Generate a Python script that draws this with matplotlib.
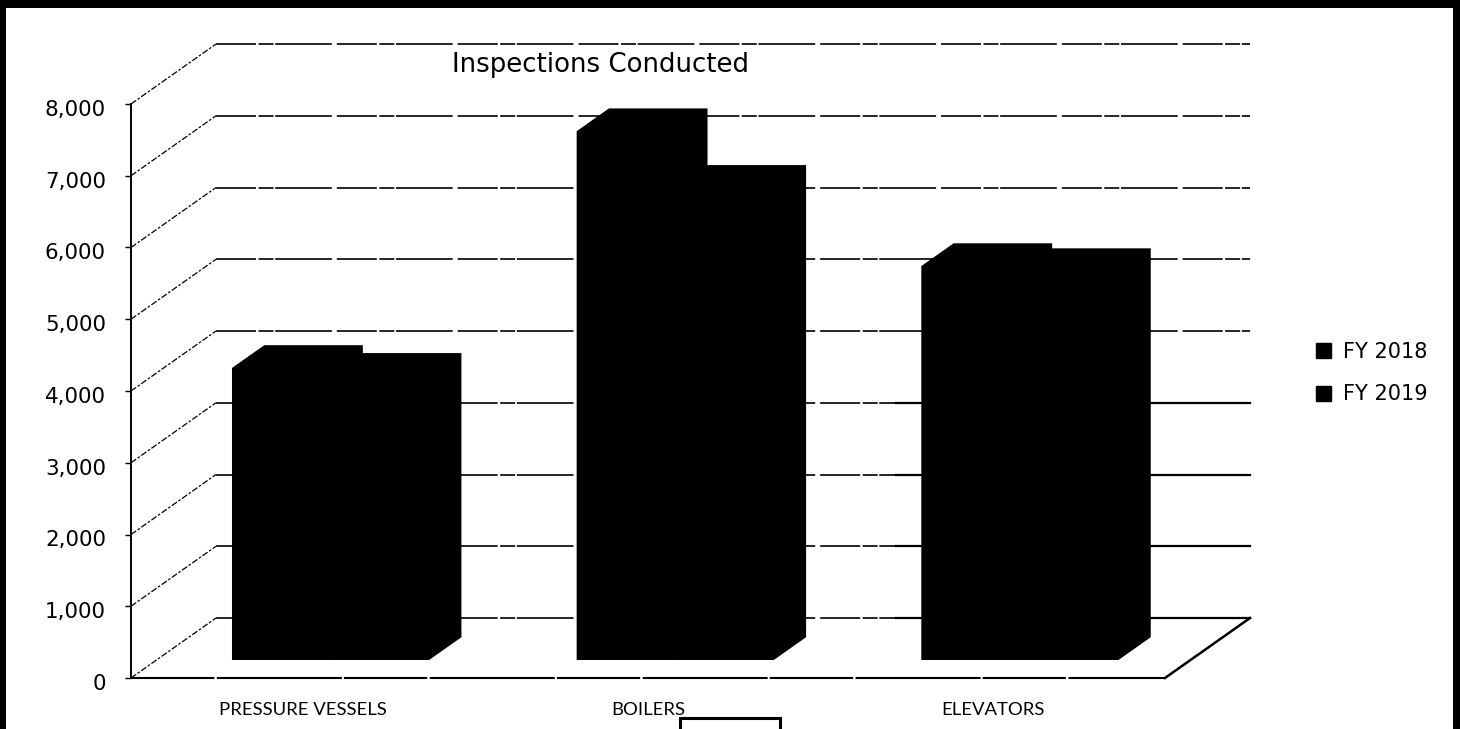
import matplotlib
matplotlib.use('Agg')
import matplotlib.pyplot as plt
from matplotlib.patches import Patch, Rectangle
from matplotlib.transforms import ScaledTranslation

plt.rcParams['font.family'] = ['DejaVu Sans']

categories = ['PRESSURE VESSELS', 'BOILERS', 'ELEVATORS']
series_names = ['FY 2018', 'FY 2019']
fy2018 = [4070, 7370, 5490]
fy2019 = [3960, 6580, 5420]
y_ticks = [0, 1000, 2000, 3000, 4000, 5000, 6000, 7000, 8000]

W, H = 1460, 729

# fake 3d depth, in data units
DEPTH_X = 0.2466
DEPTH_Y = 836
BAR_WIDTH = 0.286
BAR_SHIFT = 0.005
BAR_D0 = 0.30
BAR_D1 = 0.68

fig = plt.figure(figsize=(W / 100, H / 100), dpi=100, facecolor='white')
ax = fig.add_axes([131 / W, 1 - 678 / H, 1034 / W, 574 / H])
ax.set_xlim(-0.5, 2.5)
ax.set_ylim(0, 8000)
ax.patch.set_visible(False)


def proj(x, v, d):
    return x + d * DEPTH_X, v + d * DEPTH_Y


def draw_bar(x0, value):
    x1 = x0 + BAR_WIDTH
    corners = [proj(x0, 0, BAR_D0), proj(x0, value, BAR_D0), proj(x0, value, BAR_D1),
               proj(x1, value, BAR_D1), proj(x1, 0, BAR_D1), proj(x1, 0, BAR_D0)]
    ax.fill([c[0] for c in corners], [c[1] for c in corners], color='black', lw=0,
            clip_on=False, zorder=5)


# gridlines on the wall and side wall
rough = (0, (24, 1.5, 9, 1, 34, 3))
for v in y_ticks:
    xa, ya = proj(-0.5, v, 0)
    xb, yb = proj(-0.5, v, 1)
    xc, yc = proj(2.5, v, 1)
    ax.plot([xa, xb], [ya, yb], color='black', lw=0.9, ls=(0, (5, 1.5, 2, 1.5)), clip_on=False)
    if v >= 4000:
        ax.plot([xb, xc], [yb, yc], color='black', lw=1.2, ls=rough, clip_on=False)
    else:
        xm = 1.72
        ax.plot([xb, xm], [yb, yb], color='black', lw=1.2, ls=rough, clip_on=False)
        ax.plot([xm, xc], [yb, yb], color='black', lw=1.6, clip_on=False)

# floor edges
x_right, v_right = proj(2.5, 0, 1)
ax.plot([-0.5, 2.5], [0, 0], color='black', lw=1.5, ls=(0, (40, 1.2, 60, 1)), clip_on=False, zorder=3)
ax.plot([2.5, x_right], [0, v_right], color='black', lw=1.8, clip_on=False)

for i in range(len(categories)):
    draw_bar(i - BAR_WIDTH + BAR_SHIFT, fy2018[i])
    draw_bar(i + BAR_SHIFT, fy2019[i])

for side in ['top', 'right', 'bottom']:
    ax.spines[side].set_visible(False)
ax.spines['left'].set_linewidth(1.4)
ax.spines['left'].set_linestyle((0, (4, 1, 1.5, 1)))

ax.set_yticks(y_ticks)
ax.set_yticklabels([f'{v:,}' for v in y_ticks], fontsize=15.4)
ax.tick_params(axis='y', length=4, width=1, pad=14, color='black')
# the scan has the numbers sitting a bit under their ticks
shift = ScaledTranslation(0, -4 / 100, fig.dpi_scale_trans)
for label in ax.get_yticklabels():
    label.set_transform(label.get_transform() + shift)
ax.set_xticks(range(len(categories)))
ax.set_xticklabels(categories, fontsize=13.3, fontfamily='Lato')
ax.tick_params(axis='x', length=0, pad=17)

fig.text(601 / W, 1 - 65 / H, 'Inspections Conducted', fontsize=18.7, ha='center', va='center')

handles = [Patch(color='black', label=name) for name in series_names]
fig.legend(handles=handles, loc='center left', bbox_to_anchor=(1316 / W, 1 - 373 / H), frameon=False,
           fontsize=15, handlelength=0.72, handleheight=0.72, handletextpad=0.58, labelspacing=1.1,
           borderpad=0, borderaxespad=0)

# scan border and the cut off box at the bottom
frame = [(0, 0, W, 8), (0, 8, 6, H - 8), (W - 7, 8, 7, H - 8)]
for x, y, w, h in frame:
    fig.add_artist(Rectangle((x / W, 1 - (y + h) / H), w / W, h / H, transform=fig.transFigure,
                             color='black', lw=0))
fig.add_artist(Rectangle((680 / W, -5 / H), 100 / W, 16 / H, transform=fig.transFigure,
                         fill=False, edgecolor='black', lw=2.2))

fig.savefig('out.png', dpi=100)
